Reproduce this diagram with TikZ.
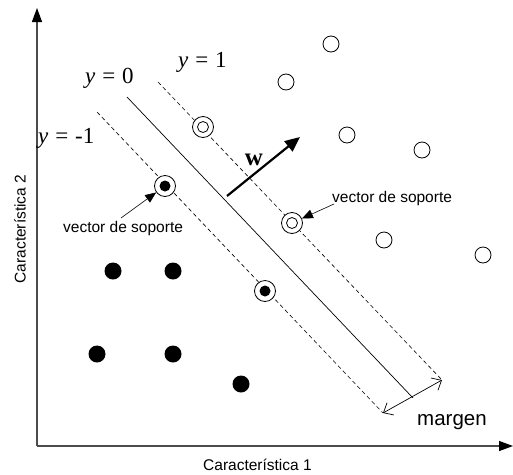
\documentclass[tikz,border=0pt]{standalone}
\usepackage{fontspec}
\setmainfont{Liberation Serif}
\newfontfamily\arialf{Liberation Sans}
\usetikzlibrary{arrows.meta}
\begin{document}
\begin{tikzpicture}[x=1pt,y=-1pt,
  sans/.style={font=\arialf\fontsize{15.5}{18}\selectfont, inner sep=0pt},
  bigsans/.style={font=\arialf\fontsize{20.5}{24}\selectfont, inner sep=0pt},
  ylbl/.style={font=\fontsize{23}{26}\selectfont, inner sep=0pt, anchor=base west},
  hollow/.style={circle, draw, line width=0.8pt, minimum size=16pt, inner sep=0pt},
  dot/.style={circle, fill, minimum size=17pt, inner sep=0pt},
  svout/.style={circle, draw, line width=0.8pt, minimum size=21pt, inner sep=0pt},
  svin/.style={circle, draw, line width=0.8pt, minimum size=11pt, inner sep=0pt},
  svdot/.style={circle, fill, minimum size=11pt, inner sep=0pt},
  axis/.style={line width=1.1pt, draw=black!70, -{Triangle[length=14pt,width=10pt,fill=black,color=black]}},
  dashline/.style={dash pattern=on 4pt off 3pt, line width=0.6pt},
  ptr/.style={line width=0.6pt, -{Triangle[length=11pt,width=9pt]}},
]
\useasboundingbox (0,0) rectangle (513,474);

% axes
\coordinate (O) at (37,446);
\coordinate (Ytop) at (37,8);
\coordinate (Xend) at (513,446);
\draw[axis] (O) -- (Ytop);
\draw[axis] (O) -- (Xend);

% lines
\coordinate (u1) at (158,82);
\coordinate (u2) at (442,380);
\coordinate (c1) at (127,97);
\coordinate (c2) at (413,398);
\coordinate (l1) at (97,112);
\coordinate (l2) at (383,413);
\draw[dashline] (u1) -- (u2);
\draw[dashline] (l1) -- (l2);
\draw[line width=0.7pt] (c1) -- (c2);
\draw[line width=0.7pt, {Straight Barb[length=8pt,width=14pt]}-{Straight Barb[length=8pt,width=14pt]}] (l2) -- (u2);

% labels y
\node[ylbl] (y0) at (85,83) {\textit{y}\hspace{0.3em}=\hspace{0.3em}0};
\node[ylbl] (y1) at (178,67) {\textit{y}\hspace{0.3em}=\hspace{0.3em}1};
\node[ylbl] (ym) at (38,143) {\textit{y}\hspace{0.3em}=\hspace{0.3em}-1};

% hollow circles
\node[hollow] (h1) at (331,44) {};
\node[hollow] (h2) at (286,82) {};
\node[hollow] (h3) at (347,135) {};
\node[hollow] (h4) at (422,150) {};
\node[hollow] (h5) at (384,240) {};
\node[hollow] (h6) at (483,255) {};

% filled dots
\node[dot] (f1) at (113,271) {};
\node[dot] (f2) at (173,271) {};
\node[dot] (f3) at (97,354) {};
\node[dot] (f4) at (173,354) {};
\node[dot] (f5) at (241,384) {};

% support vectors
\node[svout, fill=white] (sa) at (203,127) {};
\node[svin] (sai) at (sa) {};
\node[svout, fill=white] (sb) at (292,223) {};
\node[svin] (sbi) at (sb) {};
\node[svout, fill=white] (sc) at (165,186) {};
\node[svdot] (sci) at (sc) {};
\node[svout, fill=white] (sd) at (265,291) {};
\node[svdot] (sdi) at (sd) {};

% w vector
\coordinate (w1) at (227,196);
\coordinate (w2) at (300,137);
\draw[line width=2.2pt, -{Triangle[length=15pt,width=13pt]}] (w1) -- (w2);
\node[font=\bfseries\fontsize{25}{28}\selectfont, inner sep=0pt, anchor=base] (wl) at (254,165) {w};

% vector de soporte labels
\node[sans, anchor=base west] (vl) at (63,232) {vector de soporte};
\node[sans, anchor=base west] (vr) at (332,202) {vector de soporte};
\coordinate (pl) at (121,218);
\coordinate (pr) at (334,204);
\draw[ptr] (pl) -- (sc);
\draw[ptr] (pr) -- (sb);

% margen
\node[bigsans, anchor=base west] (mg) at (417,425) {margen};

% axis labels
\node[sans, anchor=base west] (xl) at (203,470) {Característica 1};
\node[sans, rotate=90] (yl) at (20,229) {Característica 2};
\end{tikzpicture}
\end{document}
